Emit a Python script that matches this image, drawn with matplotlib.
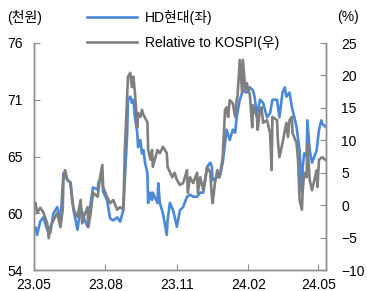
import numpy as np
import pandas as pd
import matplotlib
matplotlib.use('Agg')
import matplotlib.pyplot as plt
import matplotlib.dates as mdates

plt.rcParams['font.family'] = ['Liberation Sans', 'Noto Sans CJK KR']
plt.rcParams['axes.unicode_minus'] = True

base = pd.Timestamp('2023-05-01')

# HD현대 share price (thousand won), days since 2023-05-01
hd_day = [2, 4, 8, 12, 17, 21, 25, 30, 34, 38, 40, 43, 47, 51, 56, 60, 64, 69, 73, 76,
          82, 83, 88, 89, 94, 98, 102, 107, 111, 115, 120, 121, 124, 126, 128, 130, 133, 134, 137, 139,
          141, 143, 146, 147, 150, 152, 153, 159, 160, 162, 166, 171, 172, 175, 179, 184, 188, 192, 197, 201,
          205, 210, 214, 218, 223, 227, 229, 230, 236, 239, 243, 246, 248, 252, 256, 259, 261, 265, 269, 274,
          278, 282, 284, 287, 291, 295, 300, 304, 307, 313, 316, 320, 323, 325, 329, 332, 333, 338, 342, 345,
          346, 348, 351, 352, 355, 358, 364, 367, 370, 371, 375]
hd_price = [58.1, 57.4, 58.7, 59.1, 57.9, 57.6, 59.5, 60.1, 58.7, 63.4, 63.2, 62.7, 62.5, 59.8, 57.9, 60.1, 59.1, 58.2, 60.5, 62.0,
            61.8, 62.5, 62.9, 61.6, 60.8, 59.0, 58.8, 59.1, 58.7, 59.8, 67.3, 70.5, 70.8, 70.2, 70.5, 68.8, 67.3, 65.9, 66.6, 65.3,
            65.6, 64.4, 63.4, 60.5, 61.5, 60.8, 61.5, 60.5, 62.4, 60.5, 59.5, 57.4, 58.8, 60.5, 59.8, 58.2, 59.8, 60.1, 61.1, 61.3,
            61.1, 61.1, 61.5, 61.5, 64.0, 64.4, 64.0, 62.7, 63.0, 63.0, 64.4, 66.3, 67.6, 66.6, 67.6, 67.3, 68.8, 70.5, 71.4, 71.2,
            71.7, 71.4, 70.8, 69.0, 70.5, 70.2, 68.8, 69.2, 70.5, 70.5, 68.8, 71.2, 71.7, 70.8, 71.2, 69.8, 69.5, 67.9, 65.6, 61.5,
            64.0, 65.3, 65.0, 68.5, 65.6, 64.4, 65.6, 67.6, 68.5, 68.2, 67.9]

# Relative to KOSPI (%)
rel_day = [2, 4, 8, 12, 17, 19, 21, 25, 30, 34, 37, 38, 40, 43, 47, 49, 51, 56, 60, 62,
           64, 69, 70, 73, 76, 82, 83, 85, 88, 89, 94, 98, 102, 107, 111, 115, 117, 121, 124, 126,
           128, 130, 133, 134, 137, 139, 141, 146, 147, 150, 152, 153, 159, 162, 166, 171, 172, 178, 181, 184,
           188, 192, 197, 198, 201, 205, 210, 211, 214, 218, 223, 227, 229, 230, 233, 236, 239, 243, 246, 248,
           250, 252, 256, 259, 261, 262, 265, 268, 269, 272, 274, 278, 281, 282, 287, 288, 291, 293, 295, 300,
           304, 306, 307, 313, 314, 316, 320, 325, 327, 329, 332, 333, 338, 340, 342, 345, 346, 348, 351, 352,
           355, 358, 364, 365, 367, 371, 375]
rel_pct = [0.3, -1.2, -0.4, -1.1, -2.8, -5.1, -3.4, -2.3, -1.2, -3.4, -0.7, 4.3, 5.4, 3.9, 3.4, 0.8, -0.7, -1.8, 0.8, -2.8,
           -1.8, -0.3, -3.4, -1.2, 1.9, 1.3, 2.3, 4.3, 6.2, 2.8, 1.3, 0.3, 0.8, -0.7, -0.3, -0.7, 8.5, 19.8, 20.4, 18.2,
           19.8, 17.3, 12.0, 14.2, 13.6, 14.7, 13.9, 12.8, 8.5, 7.0, 8.5, 5.9, 8.5, 8.0, 9.0, 8.0, 5.9, 4.3, 5.0, 3.9,
           3.1, 3.4, 5.4, 1.9, 4.3, 3.4, 5.0, 1.9, 4.3, 2.3, 5.9, 5.0, 1.3, 0.3, 3.4, 5.4, 4.3, 7.4, 14.7, 15.1,
           13.6, 16.2, 15.7, 13.6, 16.2, 16.7, 22.4, 17.3, 22.4, 17.8, 18.8, 17.0, 12.0, 15.4, 13.6, 11.6, 14.7, 15.1, 12.7, 13.1,
           11.1, 5.4, 13.6, 13.1, 10.0, 7.4, 9.6, 12.7, 10.5, 13.1, 13.6, 11.1, 9.6, 7.0, 0.8, -0.7, 2.3, 5.0, 4.3, 9.6,
           3.9, 2.3, 5.4, 2.8, 7.0, 7.4, 7.0]

left_ticks = [54, 59.5, 65, 70.5, 76]
left_labels = ['54', '60', '65', '71', '76']
right_ticks = [-10, -5, 0, 5, 10, 15, 20, 25]
x_ticks = ['2023-05-01', '2023-08-01', '2023-11-01', '2024-02-01', '2024-05-01']

blue = '#4A88D8'
gray = '#7F7F7F'
spine_c = '#8C8C8C'

hd_dates = base + pd.to_timedelta(hd_day, unit='D')
rel_dates = base + pd.to_timedelta(rel_day, unit='D')

fig = plt.figure(figsize=(3.67, 2.91), dpi=100)
ax = fig.add_axes([34 / 367, 21 / 291, 292 / 367, 227 / 291])
ax2 = ax.twinx()

l1, = ax.plot(hd_dates, hd_price, color=blue, lw=1.9, label='HD현대(좌)')
l2, = ax2.plot(rel_dates, rel_pct, color=gray, lw=1.9, label='Relative to KOSPI(우)')

ax.set_ylim(54, 76)
ax.set_yticks(left_ticks)
ax.set_yticklabels(left_labels)
ax2.set_ylim(-10, 25)
ax2.set_yticks(right_ticks)

ax.set_xlim(base, pd.Timestamp('2024-05-11'))
ax.set_xticks(pd.to_datetime(x_ticks))
ax.xaxis.set_major_formatter(mdates.DateFormatter('%y.%m'))

fs = 10
for a in (ax, ax2):
    a.spines['top'].set_visible(False)
    for s in a.spines.values():
        s.set_color(spine_c)
        s.set_linewidth(1.0)
ax.tick_params(axis='y', direction='in', length=4, color=spine_c, labelsize=fs, pad=8)
ax.tick_params(axis='x', direction='in', length=4, color=spine_c, labelsize=fs, pad=6)
ax2.tick_params(axis='y', direction='in', length=4, color=spine_c, labelsize=fs, pad=11)

fig.text(7 / 367, 1 - 17 / 291, '(천원)', fontsize=fs, va='center', ha='left')
fig.text(359 / 367, 1 - 17 / 291, '(%)', fontsize=fs, va='center', ha='right')

fig.legend(handles=[l1, l2], loc='center left', bbox_to_anchor=(87 / 367, 1 - 30 / 291),
           frameon=False, fontsize=fs, handlelength=3.6, handletextpad=0.55,
           labelspacing=0.75, borderpad=0, borderaxespad=0)

fig.savefig('out.png', dpi=100)
